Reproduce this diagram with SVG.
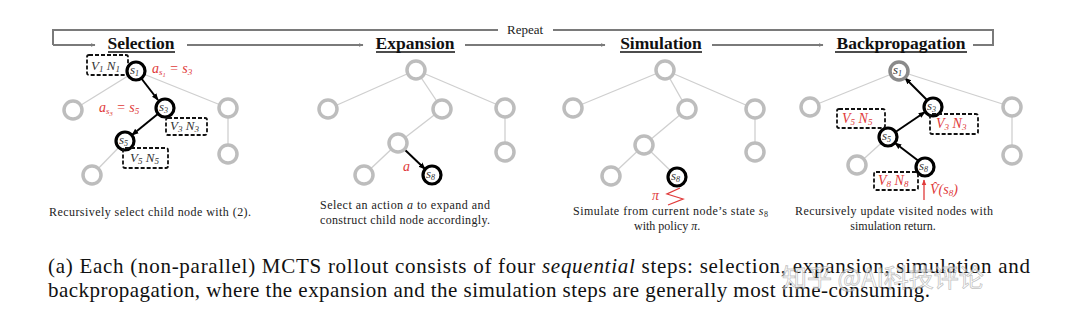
<svg xmlns="http://www.w3.org/2000/svg" width="1080" height="316" viewBox="0 0 1080 316">
<style>
.title{font-family:"Liberation Serif","Times New Roman",Times,serif;font-weight:bold;font-size:17.5px;fill:#111}
.ul{stroke:#111;stroke-width:1.3}
.flow{stroke:#7a7a7a;stroke-width:2;fill:none}
.g{fill:#fff;stroke:#bdbdbd;stroke-width:3.5}
.b{fill:#fff;stroke:#000;stroke-width:3.2}
.ge{stroke:#cfcfcf;stroke-width:1.3}
.arr{stroke:#000;stroke-width:2}
.lab{font-family:"Liberation Serif","Times New Roman",Times,serif;font-style:italic;font-size:13px;fill:#333}
.red{font-family:"Liberation Serif","Times New Roman",Times,serif;font-style:italic;font-size:14px;fill:#e03a3a}
.box{fill:none;stroke:#111;stroke-width:1.8;stroke-dasharray:4 2}
.cap{font-family:"Liberation Serif","Times New Roman",Times,serif;font-size:12px;fill:#222}
.big{font-family:"Liberation Serif","Times New Roman",Times,serif;font-size:21px;fill:#111}
</style>
<defs>
<marker id="ga" viewBox="0 0 10 10" refX="9" refY="5" markerWidth="5" markerHeight="5" orient="auto" markerUnits="userSpaceOnUse"><path d="M0,1 L10,5 L0,9 z" fill="#7a7a7a"/></marker>
<marker id="ba" viewBox="0 0 10 10" refX="9" refY="5" markerWidth="7" markerHeight="7" orient="auto" markerUnits="userSpaceOnUse"><path d="M0,1 L10,5 L0,9 z" fill="#000"/></marker>
<marker id="ra" viewBox="0 0 10 10" refX="9" refY="5" markerWidth="6" markerHeight="6" orient="auto" markerUnits="userSpaceOnUse"><path d="M0,1 L10,5 L0,9 z" fill="#e03a3a"/></marker>
</defs>
<rect width="1080" height="316" fill="#fff"/>

<g id="connectors">
<path class="flow" d="M53,45 L53,30 L498,30"/>
<path class="flow" d="M553,30 L993,30 L993,45 L973,45"/>
<path class="flow" d="M53,45 L95,45" marker-end="url(#ga)"/>
<path class="flow" d="M187,45 L363,45" marker-end="url(#ga)"/>
<path class="flow" d="M465,45 L605,45" marker-end="url(#ga)"/>
<path class="flow" d="M712,45 L823,45" marker-end="url(#ga)"/>
<line class="ge" x1="136" y1="71" x2="73" y2="110"/>
<line class="ge" x1="136" y1="71" x2="228" y2="108"/>
<line class="ge" x1="228" y1="108" x2="228" y2="154"/>
<line class="ge" x1="125" y1="141" x2="92" y2="175"/>
<line class="arr" x1="141" y1="78" x2="158" y2="100" marker-end="url(#ba)"/>
<line class="arr" x1="159" y1="113" x2="132" y2="135" marker-end="url(#ba)"/>
<line class="ge" x1="416" y1="70" x2="328" y2="109"/>
<line class="ge" x1="416" y1="70" x2="442" y2="109"/>
<line class="ge" x1="416" y1="70" x2="505" y2="108"/>
<line class="ge" x1="505" y1="108" x2="505" y2="152"/>
<line class="ge" x1="442" y1="109" x2="398" y2="143"/>
<line class="ge" x1="398" y1="143" x2="364" y2="175"/>
<line class="arr" x1="403" y1="148" x2="425" y2="169" marker-end="url(#ba)"/>
<line class="ge" x1="665" y1="70" x2="573" y2="108"/>
<line class="ge" x1="665" y1="70" x2="687" y2="109"/>
<line class="ge" x1="665" y1="70" x2="755" y2="109"/>
<line class="ge" x1="755" y1="109" x2="755" y2="152"/>
<line class="ge" x1="687" y1="109" x2="644" y2="145"/>
<line class="ge" x1="644" y1="145" x2="611" y2="176"/>
<line class="ge" x1="644" y1="145" x2="677" y2="177"/>
<path d="M680,188 L667,194 L683,199 L668,205" fill="none" stroke="#e03a3a" stroke-width="1.3"/>
<line class="ge" x1="899" y1="71" x2="810" y2="107"/>
<line class="ge" x1="899" y1="71" x2="1012" y2="107"/>
<line class="ge" x1="1012" y1="107" x2="1012" y2="155"/>
<line class="ge" x1="888" y1="137" x2="857" y2="165"/>
<line class="arr" x1="928" y1="101" x2="905" y2="78" marker-end="url(#ba)"/>
<line class="arr" x1="894" y1="133" x2="925" y2="112" marker-end="url(#ba)"/>
<line class="arr" x1="920" y1="162" x2="895" y2="143" marker-end="url(#ba)"/>
<line x1="924" y1="200" x2="924" y2="180" stroke="#e03a3a" stroke-width="1.3" marker-end="url(#ra)"/>
</g>

<g id="titles">
<text x="507" y="34" font-family="Liberation Serif,Times New Roman,serif" font-size="13" fill="#222">Repeat</text>
<text class="title" x="141" y="49" text-anchor="middle">Selection</text>
<line class="ul" x1="108" y1="52" x2="175" y2="52"/>
<text class="title" x="415" y="49" text-anchor="middle">Expansion</text>
<line class="ul" x1="376" y1="52" x2="455" y2="52"/>
<text class="title" x="661" y="49" text-anchor="middle">Simulation</text>
<line class="ul" x1="620" y1="52" x2="702" y2="52"/>
<text class="title" x="901" y="49" text-anchor="middle">Backpropagation</text>
<line class="ul" x1="835" y1="52" x2="967" y2="52"/>
</g>

<g id="selection">
<rect class="box" x="87" y="55" width="41" height="20" rx="2"/>
<text class="lab" x="91" y="70">V<tspan font-size="9" dy="2">1</tspan><tspan dy="-2"> N</tspan><tspan font-size="9" dy="2">1</tspan></text>
<circle class="g" cx="73" cy="110" r="9"/>
<circle class="g" cx="228" cy="108" r="9"/>
<circle class="g" cx="228" cy="154" r="9"/>
<circle class="g" cx="92" cy="175" r="9"/>
<circle class="b" cx="136" cy="71" r="9"/>
<text class="lab" x="130" y="74">s<tspan font-size="8" dy="2">1</tspan></text>
<circle class="b" cx="165" cy="108" r="9"/>
<text class="lab" x="159" y="111">s<tspan font-size="8" dy="2">3</tspan></text>
<circle class="b" cx="125" cy="141" r="9"/>
<text class="lab" x="119" y="144">s<tspan font-size="8" dy="2">5</tspan></text>
<text class="red" x="152" y="73">a<tspan font-size="9" dy="2">s</tspan><tspan font-size="6.5" dy="1.5">1</tspan><tspan dy="-3.5"> = s</tspan><tspan font-size="9" dy="2">3</tspan></text>
<text class="red" x="99" y="112">a<tspan font-size="9" dy="2">s</tspan><tspan font-size="6.5" dy="1.5">3</tspan><tspan dy="-3.5"> = s</tspan><tspan font-size="9" dy="2">5</tspan></text>
<rect class="box" x="166" y="118" width="41" height="17" rx="2"/>
<text class="lab" x="170" y="130">V<tspan font-size="9" dy="2">3</tspan><tspan dy="-2"> N</tspan><tspan font-size="9" dy="2">3</tspan></text>
<rect class="box" x="123" y="148" width="45" height="20" rx="2"/>
<text class="lab" x="130" y="162">V<tspan font-size="9" dy="2">5</tspan><tspan dy="-2"> N</tspan><tspan font-size="9" dy="2">5</tspan></text>
<text class="cap" x="49" y="216" textLength="202" lengthAdjust="spacing">Recursively select child node with (2).</text>
</g>

<g id="expansion">
<circle class="g" cx="416" cy="70" r="9"/>
<circle class="g" cx="328" cy="109" r="9"/>
<circle class="g" cx="442" cy="109" r="9"/>
<circle class="g" cx="505" cy="108" r="9"/>
<circle class="g" cx="505" cy="152" r="9"/>
<circle class="g" cx="398" cy="143" r="9"/>
<circle class="g" cx="364" cy="175" r="9"/>
<circle class="b" cx="432" cy="175" r="9"/>
<text class="lab" x="426" y="178">s<tspan font-size="8" dy="2">8</tspan></text>
<text class="red" x="403" y="171">a</text>
<text class="cap" x="320" y="209" textLength="170" lengthAdjust="spacing">Select an action <tspan font-style="italic">a</tspan> to expand and</text>
<text class="cap" x="320" y="224" textLength="170" lengthAdjust="spacing">construct child node accordingly.</text>
</g>

<g id="simulation">
<circle class="g" cx="665" cy="70" r="9"/>
<circle class="g" cx="573" cy="108" r="9"/>
<circle class="g" cx="687" cy="109" r="9"/>
<circle class="g" cx="755" cy="109" r="9"/>
<circle class="g" cx="755" cy="152" r="9"/>
<circle class="g" cx="644" cy="145" r="9"/>
<circle class="g" cx="611" cy="176" r="9"/>
<circle class="b" cx="677" cy="177" r="9"/>
<text class="lab" x="671" y="180">s<tspan font-size="8" dy="2">8</tspan></text>
<text class="red" x="652" y="200" font-size="12">π</text>
<text class="cap" x="573" y="215" textLength="195" lengthAdjust="spacing">Simulate from current node’s state <tspan font-style="italic">s</tspan><tspan font-size="8" dy="2">8</tspan></text>
<text class="cap" x="634" y="230">with policy <tspan font-style="italic">π</tspan>.</text>
</g>

<g id="backpropagation">
<circle class="g" cx="810" cy="107" r="9"/>
<circle class="g" cx="1012" cy="107" r="9"/>
<circle class="g" cx="1012" cy="155" r="9"/>
<circle class="g" cx="857" cy="165" r="9"/>
<circle cx="899" cy="71" r="9" fill="#fff" stroke="#8a8a8a" stroke-width="3.5"/>
<text class="lab" x="893" y="74">s<tspan font-size="8" dy="2">1</tspan></text>
<circle class="b" cx="933" cy="107" r="9"/>
<text class="lab" x="927" y="110">s<tspan font-size="8" dy="2">3</tspan></text>
<circle class="b" cx="888" cy="137" r="9"/>
<text class="lab" x="882" y="140">s<tspan font-size="8" dy="2">5</tspan></text>
<circle class="b" cx="925" cy="167" r="9"/>
<text class="lab" x="919" y="170">s<tspan font-size="8" dy="2">8</tspan></text>
<rect class="box" x="837" y="109" width="48" height="19" rx="2"/>
<text class="red" x="842" y="123">V<tspan font-size="9" dy="2">5</tspan><tspan dy="-2"> N</tspan><tspan font-size="9" dy="2">5</tspan></text>
<rect class="box" x="930" y="114" width="48" height="20" rx="2"/>
<text class="red" x="936" y="128">V<tspan font-size="9" dy="2">3</tspan><tspan dy="-2"> N</tspan><tspan font-size="9" dy="2">3</tspan></text>
<rect class="box" x="874" y="172" width="44" height="18" rx="2"/>
<text class="red" x="878" y="185">V<tspan font-size="9" dy="2">8</tspan><tspan dy="-2"> N</tspan><tspan font-size="9" dy="2">8</tspan></text>
<text class="red" x="930" y="194">V̂(s<tspan font-size="9" dy="2">8</tspan><tspan dy="-2">)</tspan></text>
<text class="cap" x="795" y="215" textLength="198" lengthAdjust="spacing">Recursively update visited nodes with</text>
<text class="cap" x="893" y="230" text-anchor="middle">simulation return.</text>
</g>

<g id="caption">
<text class="big" x="48" y="273" textLength="982" lengthAdjust="spacing">(a) Each (non-parallel) MCTS rollout consists of four <tspan font-style="italic">sequential</tspan> steps: selection, expansion, simulation and</text>
<text class="big" x="48" y="297" textLength="882" lengthAdjust="spacing">backpropagation, where the expansion and the simulation steps are generally most time-consuming.</text>
<text x="782" y="287" font-family="Noto Sans CJK SC,sans-serif" font-size="25" fill="#fff" fill-opacity="0.55" stroke="#9a9a9a" stroke-opacity="0.6" stroke-width="0.8">知乎 @AI科技评论</text>
</g>
</svg>
